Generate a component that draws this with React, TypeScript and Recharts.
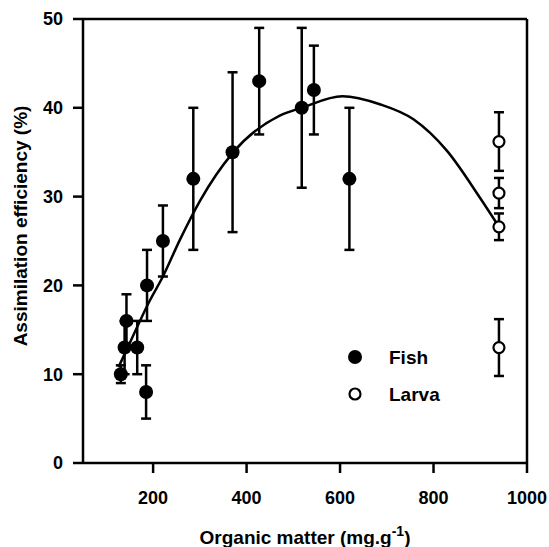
import React from 'react';
import { ComposedChart, Scatter, Line, XAxis, YAxis, ErrorBar, ReferenceLine, Label } from 'recharts';

const fishX = [131, 139, 143, 166, 187, 185, 221, 286, 370, 427, 518, 544, 620];
const fishY = [10, 13, 16, 13, 20, 8, 25, 32, 35, 43, 40, 42, 32];
const fishErr = [1, 3, 3, 3, 4, 3, 4, 8, 9, 6, 9, 5, 8];

const larvaX = [940, 940, 940, 940];
const larvaY = [36.2, 30.4, 26.6, 13.0];
const larvaErr = [3.3, 1.7, 1.5, 3.2];

const curveX = [126, 150, 193, 221, 257, 300, 370, 470, 518, 605, 685, 757, 828, 899, 940];
const curveY = [10.8, 13.5, 18.3, 21.0, 25.1, 29.5, 34.9, 39.1, 40.0, 41.3, 40.4, 38.7, 35.2, 29.9, 26.6];

const xTicks = [200, 400, 600, 800, 1000];
const yTicks = [0, 10, 20, 30, 40, 50];

const fishData = fishX.map((x, i) => ({ x, y: fishY[i], err: fishErr[i] }));
const larvaData = larvaX.map((x, i) => ({ x, y: larvaY[i], err: larvaErr[i] }));
const curveData = curveX.map((x, i) => ({ x, fit: curveY[i] }));

const FONT = '"Liberation Sans", Arial, Helvetica, sans-serif';

const FishDot = (props: any) => <circle cx={props.cx} cy={props.cy} r={7} fill="#000" />;
const LarvaDot = (props: any) => (
  <circle cx={props.cx} cy={props.cy} r={5.5} fill="#fff" stroke="#000" strokeWidth={2.2} />
);

const XTitle = () => (
  <text x={305} y={544} textAnchor="middle" fontFamily={FONT} fontWeight="bold" fontSize={19} fill="#000">
    <tspan>Organic matter (mg.g</tspan>
    <tspan dy={-8} fontSize={14}>-1</tspan>
    <tspan dy={8}>)</tspan>
  </text>
);

const YTitle = () => (
  <text
    x={27}
    y={226}
    transform="rotate(-90, 27, 226)"
    textAnchor="middle"
    fontFamily={FONT}
    fontWeight="bold"
    fontSize={19}
    fill="#000"
  >
    Assimilation efficiency (%)
  </text>
);

export default function App() {
  const tickStyle = { fontFamily: FONT, fontWeight: 'bold', fontSize: 18, fill: '#000' } as any;
  return (
    <div style={{ position: 'absolute', left: 0, top: 0, width: 549, height: 547, background: '#fff' }}>
      <ComposedChart
        width={549}
        height={547}
        margin={{ top: 19, right: 22, bottom: 0, left: 0 }}
      >
        <XAxis
          dataKey="x"
          type="number"
          domain={[50, 1000]}
          ticks={xTicks}
          allowDataOverflow
          height={84}
          tickSize={10}
          tickMargin={18}
          stroke="#000"
          strokeWidth={2.5}
          tick={tickStyle}
          tickLine={{ stroke: '#000', strokeWidth: 2.5 }}
        >
          <Label content={<XTitle />} />
        </XAxis>
        <YAxis
          type="number"
          domain={[0, 50]}
          ticks={yTicks}
          allowDataOverflow
          width={83}
          tickSize={10}
          tickMargin={10}
          stroke="#000"
          strokeWidth={2.5}
          tick={tickStyle}
          tickLine={{ stroke: '#000', strokeWidth: 2.5 }}
        >
          <Label content={<YTitle />} />
        </YAxis>
        <ReferenceLine y={50} stroke="#000" strokeWidth={2.5} />
        <ReferenceLine x={1000} stroke="#000" strokeWidth={2.5} />
        <Line
          data={curveData}
          dataKey="fit"
          type="monotone"
          stroke="#000"
          strokeWidth={2.5}
          dot={false}
          activeDot={false}
          isAnimationActive={false}
        />
        <Scatter data={fishData} dataKey="y" shape={<FishDot />} isAnimationActive={false}>
          <ErrorBar dataKey="err" direction="y" width={5} stroke="#000" strokeWidth={2.5} />
        </Scatter>
        <Scatter data={larvaData} dataKey="y" shape={<LarvaDot />} isAnimationActive={false}>
          <ErrorBar dataKey="err" direction="y" width={5} stroke="#000" strokeWidth={2.5} />
        </Scatter>
      </ComposedChart>
      <svg
        width={130}
        height={70}
        style={{ position: 'absolute', left: 340, top: 337 }}
      >
        <circle cx={15} cy={20} r={7} fill="#000" />
        <text x={49} y={27} fontFamily={FONT} fontWeight="bold" fontSize={19} fill="#000">Fish</text>
        <circle cx={15} cy={57} r={5.5} fill="#fff" stroke="#000" strokeWidth={2.2} />
        <text x={49} y={64} fontFamily={FONT} fontWeight="bold" fontSize={19} fill="#000">Larva</text>
      </svg>
    </div>
  );
}
